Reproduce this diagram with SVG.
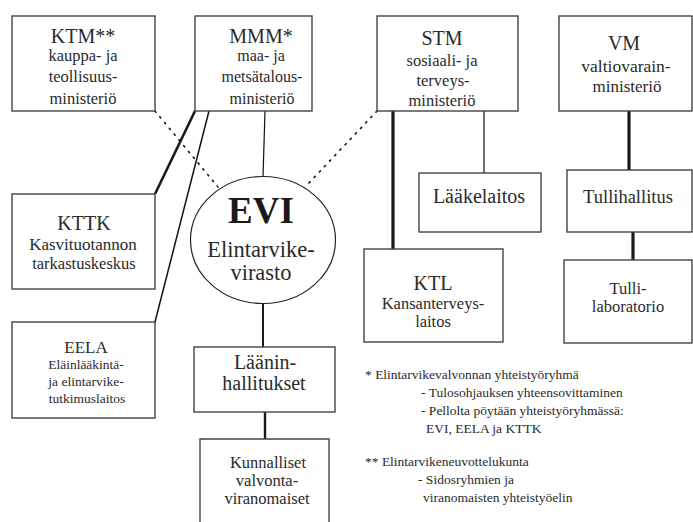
<svg xmlns="http://www.w3.org/2000/svg" width="693" height="522" viewBox="0 0 693 522" font-family="'Liberation Serif', 'DejaVu Serif', serif">
<style>
.box{fill:#fff;stroke:#444;stroke-width:1.4}
text{font-family:'Liberation Serif', 'DejaVu Serif', serif;fill:#2a2a2a;text-anchor:middle}
.t{font-size:20px}
.b{font-size:16.5px}
.s{font-size:13.5px}
.n{font-size:13.5px;text-anchor:start}
.thin{stroke:#111;stroke-width:1.2;fill:none}
.thick{stroke:#1a1a1a;stroke-width:3.2;fill:none}
.dot{stroke:#111;stroke-width:1.6;fill:none;stroke-dasharray:1.5 6;stroke-linecap:round}
</style>
<rect width="693" height="522" fill="#fff"/>
<g id="connectors">
<line class="dot" x1="155" y1="111" x2="218" y2="187"/>
<line class="dot" x1="377" y1="111" x2="307" y2="185"/>
<line class="thin" x1="265" y1="111" x2="263" y2="177"/>
<line class="thick" style="stroke-width:2.6" x1="195" y1="111" x2="155" y2="194"/>
<line class="thin" style="stroke-width:1.5" x1="209" y1="111" x2="155" y2="322"/>
<line class="thick" x1="393" y1="111" x2="393" y2="249"/>
<line class="thin" x1="484" y1="111" x2="484" y2="173"/>
<line class="thick" x1="629" y1="111" x2="629" y2="170"/>
<line class="thick" x1="633" y1="232" x2="633" y2="260"/>
<line class="thick" style="stroke-width:2" x1="263" y1="303" x2="263" y2="347"/>
<line class="thick" style="stroke-width:2.4" x1="265" y1="412" x2="265" y2="439"/>
</g>
<g id="KTM">
<rect class="box" x="12" y="16" width="143" height="95"/>
<text class="t" x="83" y="43">KTM**</text>
<text class="b" x="83" y="61">kauppa- ja</text>
<text class="b" x="83" y="82">teollisuus-</text>
<text class="b" x="83" y="104">ministeriö</text>
</g>
<g id="MMM">
<rect class="box" x="195" y="16" width="117" height="95"/>
<text class="t" x="261" y="43">MMM*</text>
<text class="b" style="font-size:16px" x="261" y="61">maa- ja</text>
<text class="b" style="font-size:16px" x="262" y="82">metsätalous-</text>
<text class="b" style="font-size:16px" x="262" y="104">ministeriö</text>
</g>
<g id="STM">
<rect class="box" x="377" y="16" width="141" height="95"/>
<text class="t" x="442" y="45">STM</text>
<text class="b" x="442" y="66">sosiaali- ja</text>
<text class="b" x="443" y="86">terveys-</text>
<text class="b" x="442" y="106">ministeriö</text>
</g>
<g id="VM">
<rect class="box" x="559" y="16" width="133" height="95"/>
<text class="t" x="624" y="50">VM</text>
<text class="b" style="font-size:17.5px" x="626" y="72">valtiovarain-</text>
<text class="b" style="font-size:17px" x="627" y="92">ministeriö</text>
</g>
<g id="EVI">
<ellipse cx="263" cy="240" rx="72.5" ry="63.5" fill="#fff" stroke="#222" stroke-width="1.2"/>
<text x="261" y="223" style="font-size:37px;font-weight:bold;fill:#1a1a1a">EVI</text>
<text x="261" y="257" style="font-size:22.5px">Elintarvike-</text>
<text x="261" y="280" style="font-size:22.5px">virasto</text>
</g>
<g id="KTTK">
<rect class="box" x="12" y="194" width="143" height="95"/>
<text class="t" x="84" y="230">KTTK</text>
<text class="b" style="font-size:17px" x="83" y="250">Kasvituotannon</text>
<text class="b" x="84" y="269">tarkastuskeskus</text>
</g>
<g id="EELA">
<rect class="box" x="12" y="322" width="143" height="96"/>
<text class="s" style="font-size:17px" x="86" y="353">EELA</text>
<text class="s" x="86" y="369">Eläinlääkintä-</text>
<text class="s" x="86" y="386">ja elintarvike-</text>
<text class="s" x="87" y="403">tutkimuslaitos</text>
</g>
<g id="Laakelaitos">
<rect class="box" x="419" y="173" width="122" height="59"/>
<text class="t" x="479" y="203">Lääkelaitos</text>
</g>
<g id="Tullihallitus">
<rect class="box" x="567" y="170" width="125" height="62"/>
<text class="t" style="font-size:18.5px" x="628" y="203">Tullihallitus</text>
</g>
<g id="KTL">
<rect class="box" x="364" y="249" width="139" height="93"/>
<text class="t" x="433" y="290">KTL</text>
<text class="b" style="font-size:16.5px" x="433" y="309">Kansanterveys-</text>
<text class="b" style="font-size:16.5px" x="433" y="327">laitos</text>
</g>
<g id="Tullilaboratorio">
<rect class="box" x="564" y="260" width="128" height="83"/>
<text class="b" style="font-size:16.5px" x="628" y="294">Tulli-</text>
<text class="b" style="font-size:16.5px" x="628" y="312">laboratorio</text>
</g>
<g id="Laaninhallitukset">
<rect class="box" x="194" y="347" width="141" height="65"/>
<text class="t" x="265" y="369">Läänin-</text>
<text class="t" x="264" y="390">hallitukset</text>
</g>
<g id="Kunnalliset">
<path class="box" d="M200,523 V439 H329 V523"/>
<text class="b" style="font-size:16.5px" x="268" y="468">Kunnalliset</text>
<text class="b" style="font-size:16.5px" x="267" y="486">valvonta-</text>
<text class="b" style="font-size:16.5px" x="267" y="504">viranomaiset</text>
</g>
<g id="notes">
<text class="n" x="365" y="379">* Elintarvikevalvonnan yhteistyöryhmä</text>
<text class="n" x="421" y="397">- Tulosohjauksen yhteensovittaminen</text>
<text class="n" x="421" y="415">- Pellolta pöytään yhteistyöryhmässä:</text>
<text class="n" x="426" y="433">EVI, EELA ja KTTK</text>
<text class="n" x="365" y="466">** Elintarvikeneuvottelukunta</text>
<text class="n" x="418" y="484">- Sidosryhmien ja</text>
<text class="n" x="423" y="502">viranomaisten yhteistyöelin</text>
</g>
</svg>
